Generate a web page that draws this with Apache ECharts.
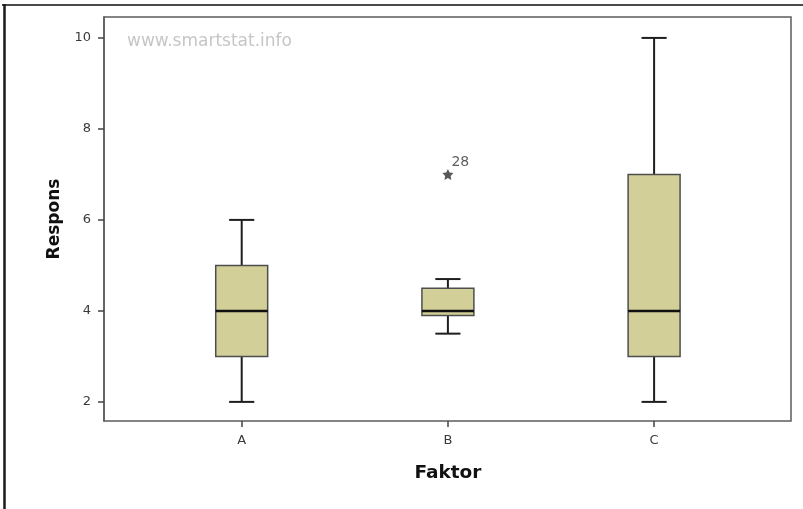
<!DOCTYPE html>
<html>
<head>
<meta charset="utf-8">
<script src="https://cdn.jsdelivr.net/npm/echarts@6/dist/echarts.min.js"></script>
<style>
  html, body { margin: 0; padding: 0; background: #fff; }
  #chart { width: 803px; height: 509px; }
</style>
</head>
<body>
<div id="chart"></div>
<script>
// Factor levels and five-number summaries of the response
const categories = ['A', 'B', 'C'];
const whiskerLow = [2, 3.5, 2];
const quartile1 = [3, 3.9, 3];
const medians = [4, 4, 4];
const quartile3 = [5, 4.5, 7];
const whiskerHigh = [6, 4.7, 10];

// Extreme values marked with a star and their case number
const outlierCategory = ['B'];
const outlierValue = [7];
const outlierCase = ['28'];

const yTicks = [2, 4, 6, 8, 10];
const yMin = 1.58;
const yMax = 10.46;

const boxData = categories.map((c, i) => [i, whiskerLow[i], quartile1[i], medians[i], quartile3[i], whiskerHigh[i]]);
const outlierData = outlierCategory.map((c, i) => ({ value: [c, outlierValue[i]], caseId: outlierCase[i] }));

const STAR = 'path://M0,-10 L2.94,-4.05 9.51,-3.09 4.76,1.55 5.88,8.09 0,5 -5.88,8.09 -4.76,1.55 -9.51,-3.09 -2.94,-4.05 Z';
const FONT = 'DejaVu Sans';

const chart = echarts.init(document.getElementById('chart'), null, { renderer: 'canvas' });

chart.setOption({
  animation: false,
  backgroundColor: '#ffffff',
  grid: [
    // framed plotting area
    { left: 104, right: 12, top: 17, bottom: 88, show: true, borderColor: '#5c5c5c', borderWidth: 1.5, backgroundColor: 'transparent' },
    // category band layout for the boxes
    { left: 138.6, width: 618.6, top: 17, bottom: 88 }
  ],
  xAxis: [
    { type: 'value', gridIndex: 0, min: 0, max: 1, show: false },
    {
      type: 'category', gridIndex: 1, data: categories,
      axisLine: { show: false },
      axisTick: { show: true, alignWithLabel: true, length: 6, lineStyle: { color: '#444', width: 1.5 } },
      axisLabel: { color: '#3a3a3a', fontSize: 13, fontFamily: FONT, margin: 13 },
      name: 'Faktor', nameLocation: 'middle', nameGap: 43,
      nameTextStyle: { fontSize: 18.5, fontWeight: 'bold', fontFamily: FONT, color: '#111' }
    }
  ],
  yAxis: [
    {
      type: 'value', gridIndex: 0, min: yMin, max: yMax,
      axisLine: { show: true, lineStyle: { color: '#5c5c5c', width: 1.5 } },
      axisTick: { show: true, length: 6, customValues: yTicks, lineStyle: { color: '#444', width: 1.5 } },
      axisLabel: { customValues: yTicks, color: '#3a3a3a', fontSize: 13, fontFamily: FONT, margin: 13 },
      splitLine: { show: false },
      name: 'Respons', nameLocation: 'middle', nameGap: 41, nameRotate: 90,
      nameTextStyle: { fontSize: 17, fontWeight: 'bold', fontFamily: FONT, color: '#111' }
    },
    { type: 'value', gridIndex: 1, min: yMin, max: yMax, show: false, splitLine: { show: false } }
  ],
  graphic: [
    { type: 'line', shape: { x1: 2, y1: 5, x2: 803, y2: 5 }, style: { stroke: '#4a4a4a', lineWidth: 2 }, z: 10 },
    { type: 'line', shape: { x1: 4.5, y1: 4, x2: 4.5, y2: 509 }, style: { stroke: '#1a1a1a', lineWidth: 2.5 }, z: 10 },
    { type: 'text', left: 127, top: 33, style: { text: 'www.smartstat.info', fill: '#c6c6c6', font: '17px "DejaVu Sans"' }, z: 10 }
  ],
  series: [
    {
      type: 'custom', xAxisIndex: 1, yAxisIndex: 1,
      data: boxData,
      encode: { x: 0, y: [1, 2, 3, 4, 5] },
      renderItem: function (params, api) {
        const idx = api.value(0);
        const lo = api.coord([idx, api.value(1)]);
        const q1 = api.coord([idx, api.value(2)]);
        const md = api.coord([idx, api.value(3)]);
        const q3 = api.coord([idx, api.value(4)]);
        const hi = api.coord([idx, api.value(5)]);
        const band = api.size([1, 0])[0];
        const half = band * 0.126;
        const cap = band * 0.061;
        const cx = md[0];
        const whisker = { stroke: '#1e1e1e', lineWidth: 2 };
        return {
          type: 'group',
          children: [
            { type: 'line', shape: { x1: cx, y1: hi[1], x2: cx, y2: q3[1] }, style: whisker },
            { type: 'line', shape: { x1: cx, y1: q1[1], x2: cx, y2: lo[1] }, style: whisker },
            { type: 'line', shape: { x1: cx - cap, y1: hi[1], x2: cx + cap, y2: hi[1] }, style: whisker },
            { type: 'line', shape: { x1: cx - cap, y1: lo[1], x2: cx + cap, y2: lo[1] }, style: whisker },
            { type: 'rect', shape: { x: cx - half, y: q3[1], width: half * 2, height: q1[1] - q3[1] },
              style: { fill: '#d3cf98', stroke: '#4e4e4e', lineWidth: 1.5 } },
            { type: 'line', shape: { x1: cx - half, y1: md[1], x2: cx + half, y2: md[1] },
              style: { stroke: '#111', lineWidth: 2.5 } }
          ]
        };
      }
    },
    {
      type: 'scatter', xAxisIndex: 1, yAxisIndex: 1,
      data: outlierData,
      symbol: STAR, symbolSize: 11,
      itemStyle: { color: '#2e2e2e' },
      label: {
        show: true,
        formatter: p => p.data.caseId,
        position: [9, -14], align: 'left', verticalAlign: 'top',
        color: '#333', fontSize: 14, fontFamily: FONT
      }
    }
  ]
});
</script>
</body>
</html>
